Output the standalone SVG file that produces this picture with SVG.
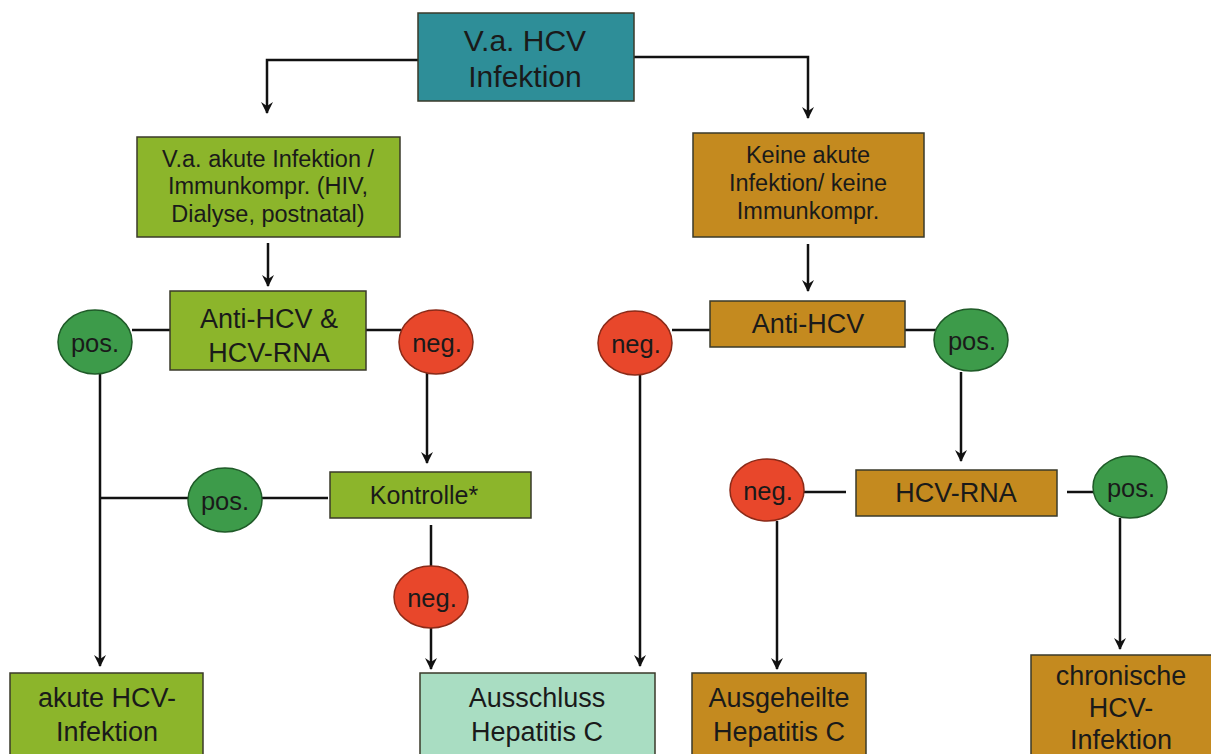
<svg xmlns="http://www.w3.org/2000/svg" width="1211" height="754" viewBox="0 0 1211 754">
<defs>
<marker id="ah" viewBox="0 0 12 12" refX="11" refY="6" markerWidth="12" markerHeight="12" markerUnits="userSpaceOnUse" orient="auto">
<path d="M0,0 L12,6 L0,12 L4,6 Z" fill="#111"/>
</marker>
<style>
text{font-family:"Liberation Sans",Arial,sans-serif;fill:#1a1a1a;text-anchor:middle}
.box{stroke:#3a3a2a;stroke-width:1.5}
.teal{fill:#2E8E98}
.green{fill:#8CB52B}
.brown{fill:#C48A1F}
.mint{fill:#A9DDC2}
.pos{fill:#3D9B4A;stroke:#1f5a28;stroke-width:1.5}
.neg{fill:#E8472B;stroke:#8a2a18;stroke-width:1.5}
.ln{stroke:#111;stroke-width:2.5;fill:none}
.arr{marker-end:url(#ah)}
.t30{font-size:30px}
.t24{font-size:23.5px}
.t27{font-size:27px}
.t25{font-size:25px}
.tb{font-size:25.5px}
</style>
</defs>
<rect width="1211" height="754" fill="#fff"/>
<g id="connectors">
<path class="ln arr" d="M418,60 H267 V113"/>
<path class="ln arr" d="M634,57 H808 V118"/>
<path class="ln arr" d="M268,243 V286"/>
<path class="ln" d="M132,330 H170"/>
<path class="ln" d="M366,330 H401"/>
<path class="ln arr" d="M100,372 V666"/>
<path class="ln" d="M100,498 H188"/>
<path class="ln" d="M262,498 H328"/>
<path class="ln arr" d="M427,373 V463"/>
<path class="ln" d="M431,525 V566"/>
<path class="ln arr" d="M431,628 V669"/>
<path class="ln arr" d="M808,244 V291"/>
<path class="ln" d="M672,330 H710"/>
<path class="ln" d="M905,330 H940"/>
<path class="ln arr" d="M640,374 V666"/>
<path class="ln arr" d="M961,372 V461"/>
<path class="ln" d="M804,492 H846"/>
<path class="ln" d="M1067,492 H1093"/>
<path class="ln arr" d="M777,521 V669"/>
<path class="ln arr" d="M1120,518 V649"/>
</g>
<g id="n-start"><rect class="box teal" x="418" y="13" width="216" height="88"/><text class="t30" x="525" y="51">V.a. HCV</text><text class="t30" x="525" y="87">Infektion</text></g>
<g id="n-akut"><rect class="box green" x="137" y="137" width="263" height="100"/><text class="t24" x="268" y="167">V.a. akute Infektion /</text><text class="t24" x="268" y="194">Immunkompr. (HIV,</text><text class="t24" x="268" y="222">Dialyse, postnatal)</text></g>
<g id="n-keine"><rect class="box brown" x="693" y="133" width="231" height="104"/><text class="t24" x="808" y="163">Keine akute</text><text class="t24" x="808" y="191">Infektion/ keine</text><text class="t24" x="808" y="219">Immunkompr.</text></g>
<g id="n-antirna"><rect class="box green" x="170" y="291" width="196" height="79"/><text class="t27" x="269" y="328">Anti-HCV &amp;</text><text class="t27" x="269" y="362">HCV-RNA</text></g>
<g id="n-pos1"><ellipse class="pos" cx="95" cy="342" rx="37" ry="32"/><text class="tb" x="95" y="352">pos.</text></g>
<g id="n-neg1"><ellipse class="neg" cx="436" cy="342" rx="37" ry="32"/><text class="tb" x="437" y="352">neg.</text></g>
<g id="n-anti"><rect class="box brown" x="710" y="301" width="195" height="46"/><text class="t27" x="808" y="333">Anti-HCV</text></g>
<g id="n-neg2"><ellipse class="neg" cx="635" cy="343" rx="37" ry="32"/><text class="tb" x="636" y="353">neg.</text></g>
<g id="n-pos2"><ellipse class="pos" cx="971" cy="340" rx="37" ry="31"/><text class="tb" x="972" y="350">pos.</text></g>
<g id="n-kontrolle"><rect class="box green" x="330" y="472" width="201" height="46"/><text class="t25" x="424" y="504">Kontrolle*</text></g>
<g id="n-pos3"><ellipse class="pos" cx="225" cy="500" rx="37" ry="32"/><text class="tb" x="225" y="510">pos.</text></g>
<g id="n-neg3"><ellipse class="neg" cx="431" cy="597" rx="37" ry="31"/><text class="tb" x="432" y="607">neg.</text></g>
<g id="n-rna"><rect class="box brown" x="856" y="470" width="201" height="46"/><text class="t27" x="956" y="502">HCV-RNA</text></g>
<g id="n-neg4"><ellipse class="neg" cx="767" cy="490" rx="37" ry="31"/><text class="tb" x="768" y="500">neg.</text></g>
<g id="n-pos4"><ellipse class="pos" cx="1130" cy="487" rx="37" ry="31"/><text class="tb" x="1131" y="497">pos.</text></g>
<g id="n-akuthcv"><rect class="box green" x="10" y="673" width="193" height="90"/><text class="t27" x="107" y="707">akute HCV-</text><text class="t27" x="107" y="741">Infektion</text></g>
<g id="n-ausschluss"><rect class="box mint" x="420" y="673" width="235" height="90"/><text class="t27" x="537" y="707">Ausschluss</text><text class="t27" x="537" y="741">Hepatitis C</text></g>
<g id="n-ausgeheilt"><rect class="box brown" x="692" y="673" width="174" height="90"/><text class="t27" x="779" y="707">Ausgeheilte</text><text class="t27" x="779" y="741">Hepatitis C</text></g>
<g id="n-chron"><rect class="box brown" x="1031" y="655" width="190" height="110"/><text class="t27" x="1121" y="685">chronische</text><text class="t27" x="1121" y="717">HCV-</text><text class="t27" x="1121" y="749">Infektion</text></g>
</svg>
